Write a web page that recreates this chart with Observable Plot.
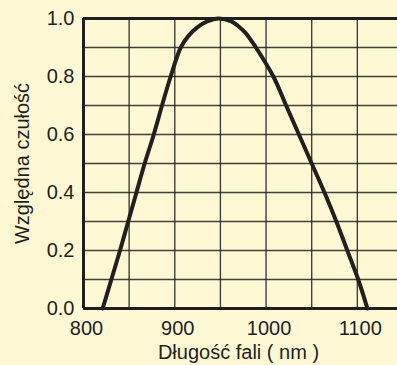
<!DOCTYPE html>
<html>
<head>
<meta charset="utf-8">
<script src="https://cdn.jsdelivr.net/npm/d3@7"></script>
<script src="https://cdn.jsdelivr.net/npm/@observablehq/plot@0.6"></script>
<style>
  html, body { margin: 0; padding: 0; background: #fff8d5; }
</style>
</head>
<body>
<div id="chart"></div>
<script>
const wavelength = [821, 830.5, 840, 849, 858, 867, 877, 886, 895.5, 906.5, 915, 925, 935.5, 948, 962, 969, 977, 984, 990, 1008, 1022, 1036, 1050, 1064, 1077, 1089, 1101, 1111];
const sensitivity = [0, 0.1, 0.2, 0.3, 0.4, 0.5, 0.6, 0.7, 0.8, 0.9, 0.94, 0.97, 0.99, 1.0, 0.99, 0.975, 0.952, 0.923, 0.895, 0.8, 0.7, 0.6, 0.5, 0.4, 0.3, 0.2, 0.1, 0];
const xTicks = [800, 900, 1000, 1100];
const yTicks = [0, 0.2, 0.4, 0.6, 0.8, 1.0];
const xGrid = [800, 850, 900, 950, 1000, 1050, 1100];
const yGrid = [0, 0.1, 0.2, 0.3, 0.4, 0.5, 0.6, 0.7, 0.8, 0.9, 1.0];
const xLabel = "Długość fali ( nm )";
const yLabel = "Względna czułość";

const data = wavelength.map((w, i) => ({w, s: sensitivity[i]}));
const ink = "#231f20";

const chart = Plot.plot({
  width: 397,
  height: 365,
  marginLeft: 83,
  marginRight: 0,
  marginTop: 18,
  marginBottom: 57,
  style: {background: "#fff8d5", fontFamily: "'Liberation Sans', Arial, sans-serif", fontSize: "20px", color: ink},
  x: {domain: [800, 1144]},
  y: {domain: [0, 1]},
  marks: [
    Plot.ruleX(xGrid, {stroke: ink, strokeWidth: 1.4, strokeOpacity: 0.85}),
    Plot.ruleY(yGrid, {stroke: ink, strokeWidth: 1.4, strokeOpacity: 0.85}),
    Plot.ruleX([800], {stroke: ink, strokeWidth: 3}),
    Plot.ruleY([0, 1], {stroke: ink, strokeWidth: 3}),
    Plot.axisX(xTicks, {tickSize: 0, tickPadding: 12, dx: 3, label: null, fontSize: 20, tickFormat: d3.format("d")}),
    Plot.axisY(yTicks, {tickSize: 0, tickPadding: 9, label: null, fontSize: 20, tickFormat: d => d.toFixed(1)}),
    Plot.text([xLabel], {frameAnchor: "bottom", textAnchor: "middle", lineAnchor: "top", dy: 36, dx: -2, fontSize: 20, fill: ink}),
    Plot.text([yLabel], {frameAnchor: "left", textAnchor: "middle", lineAnchor: "middle", rotate: -90, dx: -61, fontSize: 20, fill: ink}),
    Plot.line(data, {x: "w", y: "s", curve: "catmull-rom", stroke: ink, strokeWidth: 4, strokeLinejoin: "round"})
  ]
});
document.getElementById("chart").append(chart);
</script>
</body>
</html>
